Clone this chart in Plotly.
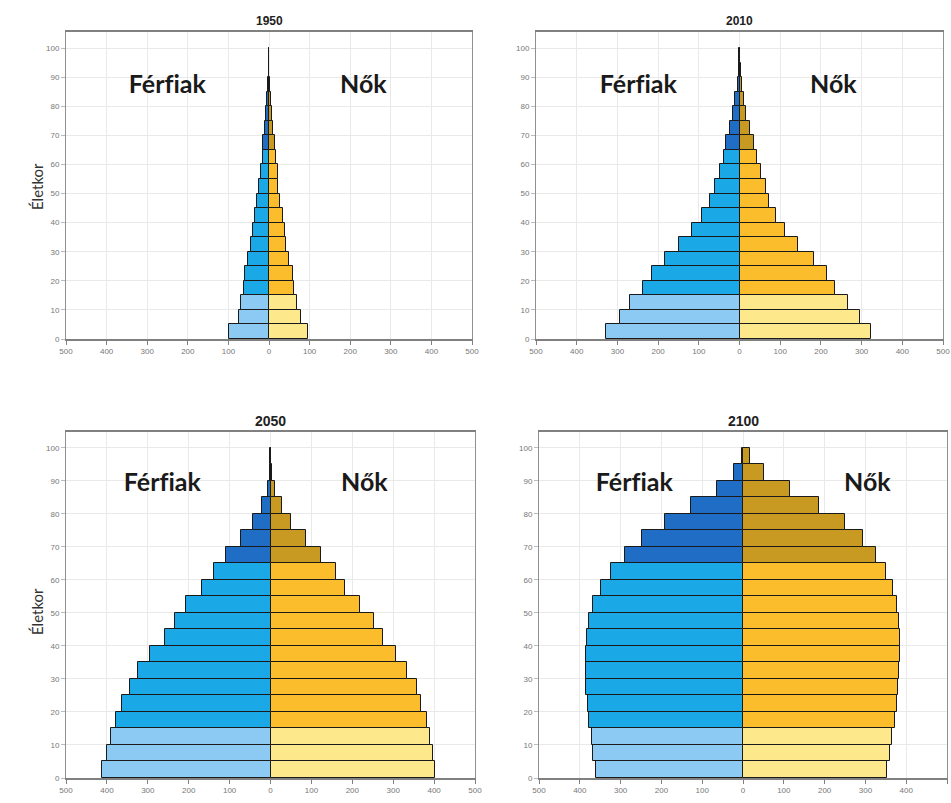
import plotly.graph_objects as go

# ---- data ----
age_groups = list(range(0, 100, 5))          # 0-4, 5-9, ..., 95-99
years = ["1950", "2010", "2050", "2100"]

male_1950 = [99, 75, 69, 61, 58, 52, 44, 40, 34, 30, 24, 20, 16, 14, 9, 6.5, 4, 2, 1, 0.5]
female_1950 = [95, 79, 68, 62, 58, 49, 42, 39, 34, 26, 23, 21, 18, 15, 11, 7, 5, 2.5, 1, 0.3]

male_2010 = [328, 294, 268, 237, 215, 183, 149, 117, 92, 72, 60, 48, 39, 32, 24, 15, 10, 4, 2, 0.5]
female_2010 = [322, 296, 267, 234, 215, 182, 143, 112, 89, 73, 64, 52, 43, 36, 26, 17, 12, 7, 3, 0.8]

male_2050 = [412, 400, 390, 378, 362, 344, 324, 294, 257, 234, 207, 168, 139, 108, 72, 43, 20, 7, 1.5, 0.3]
female_2050 = [403, 398, 390, 383, 367, 357, 333, 306, 274, 252, 219, 183, 160, 124, 87, 50, 29, 12, 3, 0.5]

male_2100 = [361, 367, 371, 377, 381, 385, 386, 386, 383, 377, 367, 347, 323, 289, 247, 192, 127, 64, 21, 3]
female_2100 = [354, 360, 366, 372, 377, 381, 383, 385, 385, 383, 378, 367, 350, 326, 295, 249, 187, 116, 52, 18]

male_data = [male_1950, male_2010, male_2050, male_2100]
female_data = [female_1950, female_2010, female_2050, female_2100]

x_ticks = [-500, -400, -300, -200, -100, 0, 100, 200, 300, 400, 500]
x_tick_text = ["500", "400", "300", "200", "100", "0", "100", "200", "300", "400", "500"]
y_ticks = list(range(0, 101, 10))

# ---- styling ----
MALE_COLORS = ("#8dcaf3", "#1aa8e6", "#1f6dc4")
FEMALE_COLORS = ("#fde98c", "#fbbd2c", "#c99a22")


def band_colors(palette):
    out = []
    for a in age_groups:
        if a < 15:
            out.append(palette[0])
        elif a < 65:
            out.append(palette[1])
        else:
            out.append(palette[2])
    return out


W, H = 951, 803
# plot areas in pixels: (left, right, top, bottom)
boxes = [(66, 472, 32, 339), (536, 943, 32, 339),
         (66, 475, 432, 778), (539, 947, 432, 778)]

fig = go.Figure()
layout = dict(
    width=W, height=H,
    margin=dict(l=0, r=0, t=0, b=0, autoexpand=False),
    paper_bgcolor="white", plot_bgcolor="white",
    barmode="relative", bargap=0,
    showlegend=False,
    font=dict(family="Liberation Sans", color="#444"),
)

annotations = []
mid = [a + 2.5 for a in age_groups]

for i, yr in enumerate(years):
    n = "" if i == 0 else str(i + 1)
    xa, ya = "x" + n, "y" + n
    fig.add_trace(go.Bar(
        y=mid, x=[-v for v in male_data[i]], width=5, orientation="h",
        marker=dict(color=band_colors(MALE_COLORS), line=dict(color="#1a1a1a", width=1)),
        xaxis=xa, yaxis=ya, hoverinfo="skip"))
    fig.add_trace(go.Bar(
        y=mid, x=female_data[i], width=5, orientation="h",
        marker=dict(color=band_colors(FEMALE_COLORS), line=dict(color="#1a1a1a", width=1)),
        xaxis=xa, yaxis=ya, hoverinfo="skip"))

    l, r, t, b = boxes[i]
    top_row = i < 2
    layout["xaxis" + n] = dict(
        domain=[l / W, r / W], anchor=ya, range=[-500, 500],
        tickvals=x_ticks, ticktext=x_tick_text, automargin=False,
        showgrid=True, gridcolor="#e9e9e9", gridwidth=1, zeroline=False,
        showline=True, linecolor="#808080", linewidth=1.5, mirror=True,
        ticks="outside", ticklen=4, tickcolor="#808080",
        tickfont=dict(size=8, color="#777"), fixedrange=True)
    layout["yaxis" + n] = dict(
        domain=[1 - b / H, 1 - t / H], anchor=xa,
        range=[0, 105.5 if top_row else 104.8],
        tickvals=y_ticks, automargin=False,
        showgrid=True, gridcolor="#e9e9e9", gridwidth=1, zeroline=False,
        showline=True, linecolor="#909090", linewidth=1, mirror=True,
        ticks="outside", ticklen=4, tickcolor="#bbbbbb",
        tickfont=dict(size=8, color="#777"), fixedrange=True)

    # panel title
    annotations.append(dict(
        text="<b>%s</b>" % yr, xref="paper", yref="paper",
        x=((l + r) / 2) / W, y=1 - (t - 11) / H, showarrow=False,
        xanchor="center", yanchor="middle",
        font=dict(size=12 if top_row else 14, color="#222", family="Liberation Sans")))

    lab_y = 88 if top_row else 90
    fx, nx = [(-249, 232), (-247, 230), (-263, 229), (-267, 304)][i]
    for txt, xx in (("Férfiak", fx), ("Nők", nx)):
        annotations.append(dict(
            text="<b>%s</b>" % txt, xref=xa, yref=ya, x=xx, y=lab_y,
            showarrow=False, xanchor="center", yanchor="middle",
            font=dict(size=25, color="#1a1a1a", family="Lato")))

# y-axis titles on the left panels
for yc in (187, 612):
    annotations.append(dict(
        text="Életkor", xref="paper", yref="paper", x=37 / W, y=1 - yc / H,
        showarrow=False, textangle=-90, xanchor="center", yanchor="middle",
        font=dict(size=15, color="#333", family="Lato")))

layout["annotations"] = annotations
fig.update_layout(**layout)

post = (
    "document.body.style.margin='0';"
    "document.body.style.overflow='hidden';"
    "var s=document.createElement('style');"
    "s.textContent='svg text{font-variant-ligatures:none;font-feature-settings:\"liga\" 0;}';"
    "document.head.appendChild(s);"
)
fig.write_html("out.html", config={"displayModeBar": False}, post_script=post)
